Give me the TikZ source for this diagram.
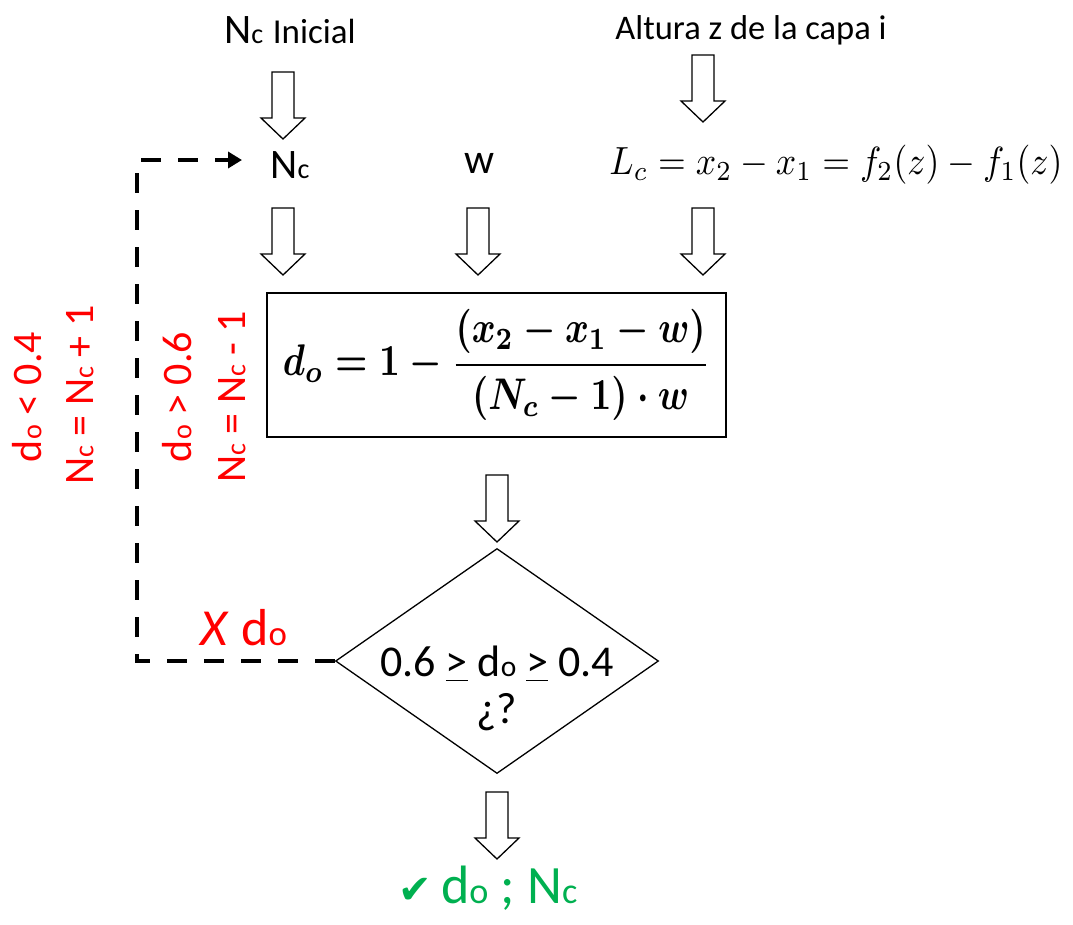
\documentclass[tikz,border=0pt]{standalone}
\usepackage[no-math]{fontspec}
\setmainfont{Carlito}
\newfontfamily\symfont{DejaVu Sans}
\usepackage{amsmath}
\usetikzlibrary{shapes.geometric,arrows.meta}
\definecolor{redc}{RGB}{255,0,0}
\definecolor{greenc}{RGB}{0,176,80}
\newcommand{\smc}[1]{\scalebox{0.67}{#1}}
\tikzset{
  hollow/.pic={\draw[line width=1.3pt, line join=miter, fill=white]
     (-11,0) -- (11,0) -- (11,46) -- (22,46) -- (0,67) -- (-22,46) -- (-11,46) -- cycle;},
  big/.style={font=\fontsize{42}{50}\selectfont, inner sep=0pt},
  redtxt/.style={big, text=redc, rotate=90},
  dashline/.style={line width=4.5pt, dash pattern=on 20pt off 17pt, -{Triangle[length=14pt,width=16pt]}},
}
\begin{document}
\begin{tikzpicture}[x=1pt,y=-1pt]
\useasboundingbox (0,0) rectangle (1073,924);
% top texts
\node[big] (ninit) at (290,30) {N\smc{c}\ {\fontsize{35}{40}\selectfont Inicial}};
\node[font=\fontsize{34.5}{40}\selectfont, inner sep=0pt] (alt) at (751,30) {Altura z de la capa i};
% row of inputs
\node[big] (nc) at (290,165) {N\smc{c}};
\node[big] (w) at (480,163) {w};
\node[inner sep=0pt] (lc) at (836,165) {\scalebox{1}[1.1]{\resizebox{453pt}{!}{$L_c = x_2 - x_1 = f_2(z) - f_1(z)$}}};
% equation box
\node[draw, line width=1.5pt, minimum width=459pt, minimum height=144pt, inner sep=0pt] (eq) at (496.5,365)
  {\scalebox{1}[1.22]{\resizebox{427pt}{!}{\boldmath$d_o = \mathbf{1} - \dfrac{(x_2 - x_1 - w)}{(N_c - \mathbf{1}) \cdot w}$}}\hspace{16pt}};
% diamond
\node[draw, diamond, line width=1.3pt, minimum width=323pt, minimum height=225pt, inner sep=0pt] (dia) at (497,661) {};
\node[font=\fontsize{44}{50}\selectfont, inner sep=0pt] (dt1) at (497,664) {0.6 \underline{>} d\smc{o} \underline{>} 0.4};
\node[font=\fontsize{44}{50}\selectfont, inner sep=0pt] (dt2) at (497,712) {¿?};
% hollow arrows
\pic at (283,72) {hollow};
\pic at (703,55) {hollow};
\pic at (283,208) {hollow};
\pic at (478,208) {hollow};
\pic at (703,208) {hollow};
\pic at (497,475) {hollow};
\pic at (497,792) {hollow};
% red labels
\node[redtxt] (r1) at (27,397) {d\smc{o} < 0.4};
\node[redtxt] (r2) at (80,395) {N\smc{c} = N\smc{c} + 1};
\node[redtxt] (r3) at (177,397) {d\smc{o} > 0.6};
\node[redtxt] (r4) at (232,397) {N\smc{c} = N\smc{c} - 1};
\node[font=\fontsize{52}{58}\selectfont, text=redc, inner sep=0pt] (xd) at (244,628) {\textit{X} d\smc{o}};
% green result
\node[font=\fontsize{54}{60}\selectfont, text=greenc, inner sep=0pt] (res) at (488,888) {{\symfont\fontsize{40}{44}\selectfont ✔}\,d\smc{o} ; N\smc{c}};
% dashed loop
\coordinate (cbot) at (137,661);
\coordinate (ctop) at (137,160);
\coordinate (atip) at (242,160);
\draw[dashline] (dia.west) -- (cbot) -- (ctop) -- (atip);
\end{tikzpicture}
\end{document}
